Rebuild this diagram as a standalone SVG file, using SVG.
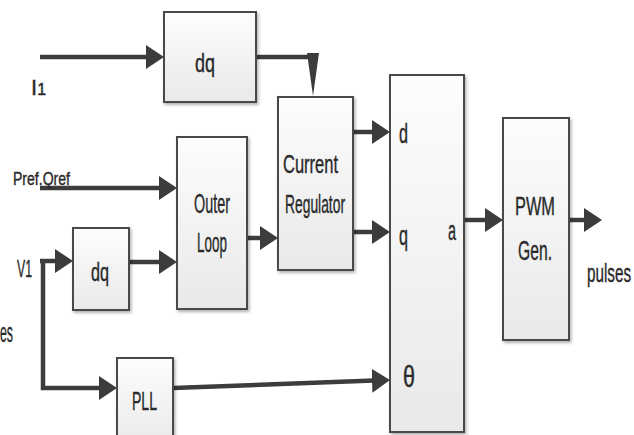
<svg xmlns="http://www.w3.org/2000/svg" width="634" height="435" viewBox="0 0 634 435">
<defs>
<linearGradient id="bg" x1="0" y1="0" x2="0" y2="1">
<stop offset="0" stop-color="#fdfdfd"/>
<stop offset="1" stop-color="#e9e9e9"/>
</linearGradient>
<filter id="sh" x="-20%" y="-20%" width="140%" height="140%">
<feDropShadow dx="1.5" dy="2" stdDeviation="1.5" flood-color="#000" flood-opacity="0.3"/>
</filter>
<marker id="ah" markerUnits="userSpaceOnUse" markerWidth="20" markerHeight="24" refX="2" refY="12" orient="auto">
<path d="M0,0 L18,12 L0,24 z" fill="#3c3c3c"/>
</marker>
<style>
.box{fill:url(#bg);stroke:#4a4a4a;stroke-width:2;filter:url(#sh)}
.ln{fill:none;stroke:#3c3c3c;stroke-width:4.5}
.ar{marker-end:url(#ah)}
text{font-family:"Liberation Sans",Arial,sans-serif;fill:#2a2a2a;stroke:#2a2a2a;stroke-width:0.4}
</style>
</defs>
<rect width="634" height="435" fill="#fff"/>

<g id="connectors">
<path class="ln ar" d="M40,57 H148"/>
<path class="ln" d="M256,57 H313"/>
<path d="M307,53 L319,53 L313,96 z" fill="#3c3c3c"/>
<path class="ln ar" d="M40,188 H161"/>
<path class="ln ar" d="M40,261 H57"/>
<path class="ln ar" d="M43,261 V388 H101"/>
<path class="ln ar" d="M129,262 H161"/>
<path class="ln ar" d="M247,238 H262"/>
<path class="ln ar" d="M353,132 H374"/>
<path class="ln ar" d="M353,232 H374"/>
<path class="ln ar" d="M173,388 L374,380.6"/>
<path class="ln ar" d="M464,220 H487"/>
<path class="ln ar" d="M569,220 H586"/>
</g>

<g id="label-I1"><text x="31" y="95" font-size="22">I<tspan font-size="16">1</tspan></text></g>
<g id="label-pref"><text x="13" y="185" font-size="19" textLength="57" lengthAdjust="spacingAndGlyphs">Pref.Qref</text></g>
<g id="label-V1"><text x="17" y="277" font-size="24" textLength="15" lengthAdjust="spacingAndGlyphs">V1</text></g>
<g id="label-es"><text x="0" y="342" font-size="27" textLength="13" lengthAdjust="spacingAndGlyphs">es</text></g>
<g id="label-pulses"><text x="587" y="282" font-size="26" textLength="44" lengthAdjust="spacingAndGlyphs">pulses</text></g>

<g id="node-dq1">
<rect class="box" x="164" y="12" width="92" height="90"/>
<text x="195" y="72" font-size="26" textLength="20" lengthAdjust="spacingAndGlyphs">dq</text>
</g>
<g id="node-dq2">
<rect class="box" x="73" y="228" width="56" height="82"/>
<text x="91" y="281" font-size="26" textLength="18" lengthAdjust="spacingAndGlyphs">dq</text>
</g>
<g id="node-outer">
<rect class="box" x="177" y="137" width="70" height="172"/>
<text x="194" y="213" font-size="28" textLength="36" lengthAdjust="spacingAndGlyphs">Outer</text>
<text x="197" y="252" font-size="28" textLength="30" lengthAdjust="spacingAndGlyphs">Loop</text>
</g>
<g id="node-current">
<rect class="box" x="278" y="97" width="75" height="173"/>
<text x="283" y="173" font-size="26" textLength="55" lengthAdjust="spacingAndGlyphs">Current</text>
<text x="285" y="213" font-size="26" textLength="60" lengthAdjust="spacingAndGlyphs">Regulator</text>
</g>
<g id="node-pll">
<rect class="box" x="117" y="358" width="56" height="90"/>
<text x="132" y="410" font-size="26" textLength="25" lengthAdjust="spacingAndGlyphs">PLL</text>
</g>
<g id="node-transform">
<rect class="box" x="390" y="75" width="74" height="357"/>
<text x="399" y="143" font-size="27" textLength="9" lengthAdjust="spacingAndGlyphs">d</text>
<text x="399" y="245" font-size="27" textLength="9" lengthAdjust="spacingAndGlyphs">q</text>
<text x="448" y="240" font-size="27" textLength="8" lengthAdjust="spacingAndGlyphs">a</text>
<text x="403" y="387" font-size="29" textLength="12" lengthAdjust="spacingAndGlyphs">θ</text>
</g>
<g id="node-pwm">
<rect class="box" x="503" y="118" width="66" height="222"/>
<text x="515" y="215" font-size="26" textLength="40" lengthAdjust="spacingAndGlyphs">PWM</text>
<text x="518" y="260" font-size="28" textLength="34" lengthAdjust="spacingAndGlyphs">Gen.</text>
</g>
</svg>
